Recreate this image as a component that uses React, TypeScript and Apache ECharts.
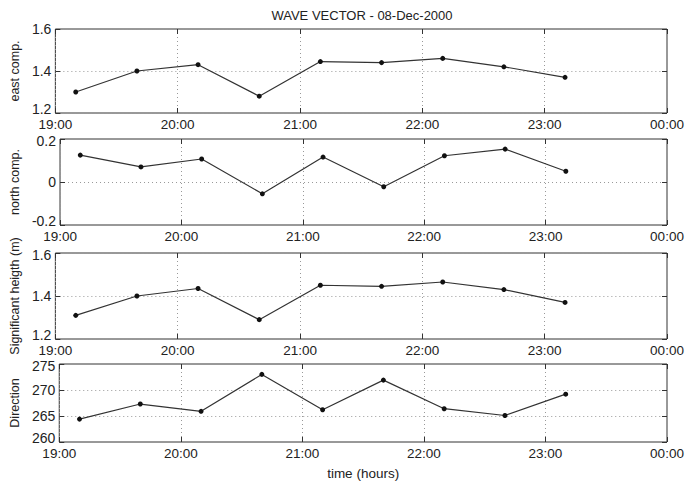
import React, { useEffect, useRef } from "react";
import * as echarts from "echarts";

const times = ["19:10", "19:40", "20:10", "20:40", "21:10", "21:40", "22:10", "22:40", "23:10"];
const eastComp = [1.30, 1.40, 1.43, 1.28, 1.445, 1.44, 1.46, 1.42, 1.37];
const northComp = [0.125, 0.07, 0.107, -0.055, 0.116, -0.022, 0.122, 0.153, 0.05];
const sigHeight = [1.31, 1.40, 1.435, 1.29, 1.45, 1.445, 1.465, 1.43, 1.37];
const direction = [264.4, 267.3, 265.9, 273.0, 266.2, 271.9, 266.4, 265.1, 269.2];

const panelNames = ["east comp.", "north comp.", "Significant heigth (m)", "Direction"];
const panelMin = [1.2, -0.2, 1.2, 260];
const panelMax = [1.6, 0.2, 1.6, 275];
const panelInterval = [0.2, 0.2, 0.2, 5];
const xTickLabels = ["19:00", "20:00", "21:00", "22:00", "23:00", "00:00"];

const toMin = (t: string) => {
  const [h, m] = t.split(":").map(Number);
  return h * 60 + m;
};

const FONT = "'Liberation Sans', Arial, Helvetica, sans-serif";
const TXT = "#222";
const LINE = "#333";

export default function App() {
  const ref = useRef<HTMLDivElement>(null);
  useEffect(() => {
    if (!ref.current) return;
    const chart = echarts.init(ref.current, undefined, { renderer: "svg" });
    const tops = [29, 139, 253, 364];
    const heights = [84, 86, 86, 86];
    const seriesData = [eastComp, northComp, sigHeight, direction];
    const grids: any[] = [];
    const xAxes: any[] = [];
    const yAxes: any[] = [];
    const series: any[] = [];
    const fmtY = (i: number) => (v: number) => {
      let s: string;
      if (i === 3) s = String(Math.round(v));
      else {
        const r = Math.round(v * 10) / 10;
        s = r === 0 ? "0" : r.toFixed(1);
      }
      if (Math.abs(v - panelMin[i]) < 1e-6) return `{lo|${s}}`;
      if (i > 0 && Math.abs(v - panelMax[i]) < 1e-6) return `{hi|${s}}`;
      return s;
    };
    for (let i = 0; i < 4; i++) {
      grids.push({
        left: 52,
        right: 21,
        top: tops[i],
        height: heights[i],
        show: true,
        borderColor: LINE,
        borderWidth: 1,
        backgroundColor: "#fff",
      });
      const xBase = {
        type: "value",
        gridIndex: i,
        min: 1140,
        max: 1440,
        interval: 60,
      };
      xAxes.push({
        ...xBase,
        position: "bottom",
        axisLine: { show: false, onZero: false },
        axisTick: { show: true, inside: true, length: 5, lineStyle: { color: LINE } },
        axisLabel: {
          show: true,
          margin: 4,
          color: TXT,
          fontFamily: FONT,
          fontSize: 13.5,
          lineHeight: 14,
          formatter: (v: number) => xTickLabels[Math.round((v - 1140) / 60)] ?? "",
        },
        splitLine: { show: true, lineStyle: { color: "#999", type: [1, 3], width: 1 } },
        ...(i === 3
          ? {
              name: "time (hours)",
              nameLocation: "middle",
              nameGap: 24,
              nameTextStyle: { color: TXT, fontFamily: FONT, fontSize: 13.5 },
            }
          : {}),
      });
      xAxes.push({
        ...xBase,
        position: "top",
        axisLine: { show: false, onZero: false },
        axisTick: { show: true, inside: true, length: 5, lineStyle: { color: LINE } },
        axisLabel: { show: false },
        splitLine: { show: false },
      });
      const yBase = {
        type: "value",
        gridIndex: i,
        min: panelMin[i],
        max: panelMax[i],
        interval: panelInterval[i],
      };
      yAxes.push({
        ...yBase,
        position: "left",
        name: panelNames[i],
        nameLocation: "middle",
        nameGap: 28,
        nameTextStyle: { color: TXT, fontFamily: FONT, fontSize: 12.5 },
        axisLine: { show: false, onZero: false },
        axisTick: { show: true, inside: true, length: 5, lineStyle: { color: LINE } },
        axisLabel: {
          show: true,
          margin: 4,
          color: TXT,
          fontFamily: FONT,
          fontSize: 14,
          lineHeight: 14,
          formatter: fmtY(i),
          rich: {
            lo: {
              color: TXT,
              fontFamily: FONT,
              fontSize: 14,
              lineHeight: 14,
              padding: [0, 0, 8, 0],
            },
            hi: {
              color: TXT,
              fontFamily: FONT,
              fontSize: 14,
              lineHeight: 14,
              padding: [3, 0, 0, 0],
            },
          },
        },
        splitLine: { show: true, lineStyle: { color: "#999", type: [1, 3], width: 1 } },
      });
      yAxes.push({
        ...yBase,
        position: "right",
        axisLine: { show: false, onZero: false },
        axisTick: { show: true, inside: true, length: 5, lineStyle: { color: LINE } },
        axisLabel: { show: false },
        splitLine: { show: false },
      });
      series.push({
        type: "line",
        xAxisIndex: i * 2,
        yAxisIndex: i * 2,
        data: times.map((t, k) => [toMin(t), seriesData[i][k]]),
        symbol: "circle",
        symbolSize: 5,
        itemStyle: { color: "#111" },
        lineStyle: { color: "#333", width: 1.2 },
      });
    }
    chart.setOption({
      animation: false,
      backgroundColor: "#fff",
      title: {
        text: "WAVE VECTOR - 08-Dec-2000",
        left: 357,
        top: 4,
        textAlign: "center",
        textStyle: { color: TXT, fontFamily: FONT, fontSize: 13, fontWeight: "normal" },
      },
      grid: grids,
      xAxis: xAxes,
      yAxis: yAxes,
      series,
    });
    return () => chart.dispose();
  }, []);
  return (
    <div
      ref={ref}
      style={{ position: "fixed", left: 0, top: 0, width: 688, height: 481, background: "#fff" }}
    />
  );
}
